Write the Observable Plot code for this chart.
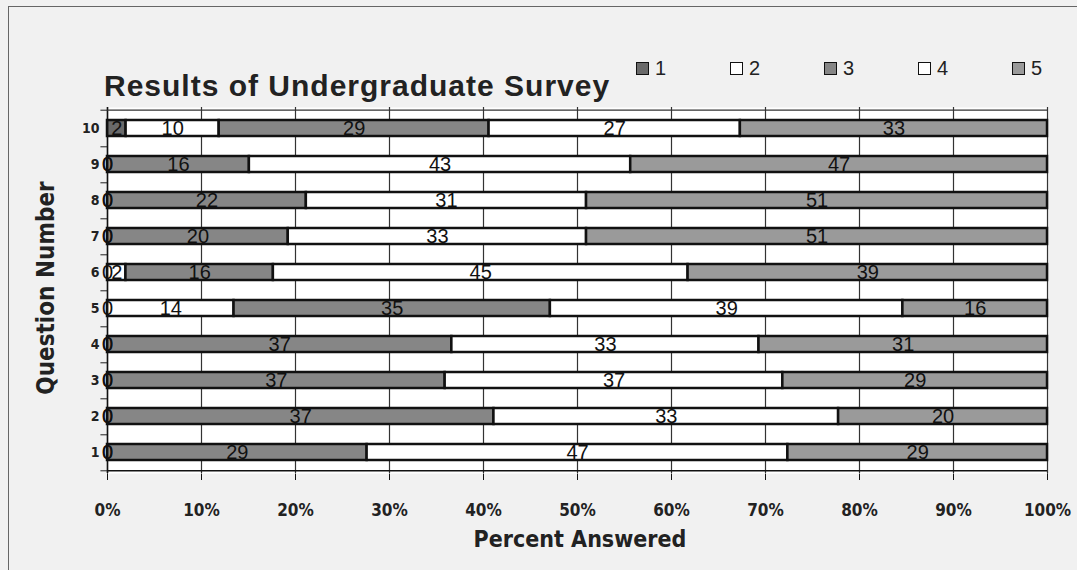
<!DOCTYPE html>
<html>
<head>
<meta charset="utf-8">
<script src="https://cdn.jsdelivr.net/npm/d3@7"></script>
<script src="https://cdn.jsdelivr.net/npm/@observablehq/plot@0.6"></script>
<style>
  body { margin: 0; background: #f1f1f1; }
  #wrap { position: relative; width: 1077px; height: 570px; overflow: hidden; background: #f1f1f1; }
  #border { position: absolute; left: 8px; top: 6px; width: 1100px; height: 600px; border-left: 1px solid #666; border-top: 1px solid #666; }
  #chart { position: absolute; left: 0; top: 0; }
  #title { position: absolute; left: 104px; top: 69px; font: bold 30px "Liberation Sans", Arial, sans-serif; letter-spacing: 1px; color: #222; white-space: nowrap; }
  #legend { position: absolute; left: 636px; top: 57px; display: flex; font: 20px "Liberation Sans", Arial, sans-serif; color: #222; }
  .item { width: 94px; display: flex; align-items: center; }
  .sw { width: 13px; height: 13px; border: 1.5px solid #111; margin-right: 6px; box-sizing: border-box; }
  #xtitle { position: absolute; left: 0; width: 1160px; top: 526px; text-align: center; font: bold 23px "DejaVu Sans Condensed", "DejaVu Sans", sans-serif; color: #222; }
  #ytitle { position: absolute; left: 46px; top: 288px; transform: translate(-50%, -50%) rotate(-90deg); font: bold 24px "DejaVu Sans Condensed", "DejaVu Sans", sans-serif; color: #222; white-space: nowrap; }
</style>
</head>
<body>
<div id="wrap">
  <div id="border"></div>
  <div id="chart"></div>
  <div id="title"></div>
  <div id="legend"></div>
  <div id="xtitle"></div>
  <div id="ytitle"></div>
</div>
<script>
// Categories (question numbers, bottom to top)
const questions = ["1", "2", "3", "4", "5", "6", "7", "8", "9", "10"];
// Answer series
const seriesNames = ["1", "2", "3", "4", "5"];
// Values per question (Q1..Q10) for each answer
const answer1 = [0, 0, 0, 0, 0, 0, 0, 0, 0, 2];
const answer2 = [0, 0, 0, 0, 14, 2, 0, 0, 0, 10];
const answer3 = [29, 37, 37, 37, 35, 16, 20, 22, 16, 29];
const answer4 = [47, 33, 37, 33, 39, 45, 33, 31, 43, 27];
const answer5 = [29, 20, 29, 31, 16, 39, 51, 51, 47, 33];
// Tick labels
const xTicks = [0, 0.1, 0.2, 0.3, 0.4, 0.5, 0.6, 0.7, 0.8, 0.9, 1];
const xTickLabels = ["0%", "10%", "20%", "30%", "40%", "50%", "60%", "70%", "80%", "90%", "100%"];
const titleText = "Results of Undergraduate Survey";
const xLabel = "Percent Answered";
const yLabel = "Question Number";
const seriesColors = ["#6a6a6a", "#ffffff", "#868686", "#ffffff", "#9a9a9a"];

const seriesValues = [answer1, answer2, answer3, answer4, answer5];
const data = questions.flatMap((q, i) =>
  seriesNames.map((s, j) => ({question: q, series: s, value: seriesValues[j][i]}))
);

const stackOpts = {x: "value", y: "question", z: "series", order: seriesNames, offset: "normalize"};

const chart = Plot.plot({
  width: 1077,
  height: 570,
  marginLeft: 107,
  marginRight: 30,
  marginTop: 107,
  marginBottom: 97,
  style: {background: "transparent", fontFamily: "'DejaVu Sans Condensed', 'DejaVu Sans', sans-serif", fontSize: "17px", fontWeight: "bold", color: "#222"},
  x: {domain: [0, 1], ticks: xTicks, tickFormat: (d) => xTickLabels[xTicks.indexOf(d)] ?? "", tickSize: 7, tickPadding: 23, label: null},
  y: {domain: questions.slice().reverse(), paddingInner: 0.56, paddingOuter: 0.28, tickSize: 0, tickPadding: 8, label: null},
  color: {domain: seriesNames, range: seriesColors},
  marks: [
    Plot.frame({fill: "white", stroke: null}),
    Plot.gridX(xTicks, {stroke: "#333", strokeOpacity: 1, strokeWidth: 1.2}),
    Plot.barX(data, Plot.stackX({...stackOpts, fill: "series", stroke: "#111", strokeWidth: 2.5})),
    Plot.text(data, Plot.stackX({...stackOpts, text: (d) => String(d.value), fill: "#111", fontSize: 20, fontWeight: "normal", fontFamily: "'Liberation Sans', Arial, sans-serif"})),
    Plot.ruleY(questions, {y: (d) => d, x1: -0.007, x2: 0, dy: 18.3, stroke: "#222"}),
    Plot.ruleY(["10"], {y: (d) => d, x1: -0.007, x2: 0, dy: -18.3, stroke: "#222"}),
    Plot.ruleX([0], {stroke: "#111", strokeWidth: 1.5}),
    Plot.ruleY([questions[0]], {y: (d) => d, dy: 18.3, stroke: "#111", strokeWidth: 1.5}),
    Plot.ruleY([questions[questions.length - 1]], {y: (d) => d, dy: -18.3, stroke: "#333", strokeWidth: 1.2})
  ]
});
document.getElementById("chart").appendChild(chart);

// Style y tick labels smaller
d3.select(chart).selectAll('[aria-label^="y-axis"] text').style("font-size", "14px");
d3.select(chart).selectAll('[aria-label^="x-axis"] line, [aria-label^="x-axis"] path').attr("stroke", "#111");

document.getElementById("title").textContent = titleText;
document.getElementById("xtitle").textContent = xLabel;
document.getElementById("ytitle").textContent = yLabel;

const legend = d3.select("#legend");
seriesNames.forEach((s, i) => {
  const item = legend.append("div").attr("class", "item");
  item.append("div").attr("class", "sw").style("background", seriesColors[i]);
  item.append("span").text(s);
});
</script>
</body>
</html>
